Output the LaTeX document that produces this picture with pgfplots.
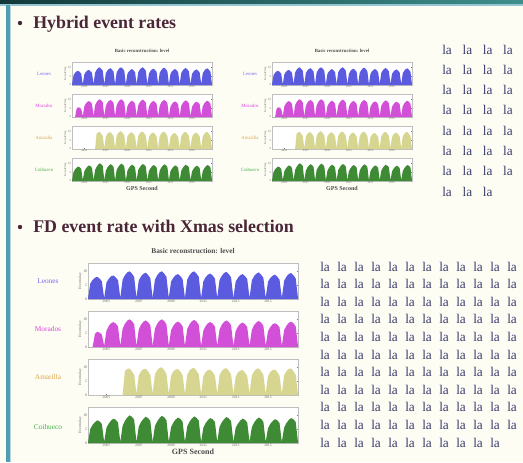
\documentclass[border=0pt]{standalone}
\usepackage{fontspec}
\setmainfont{Liberation Serif}
\usepackage{pgfplots}
\pgfplotsset{compat=1.18}
\usepackage{pgfplotstable}

\definecolor{bg}{HTML}{FDFDF4}
\definecolor{framec}{HTML}{4F9FB2}
\definecolor{bardark}{HTML}{12393A}
\definecolor{barlight}{HTML}{3E8F8C}
\definecolor{headtxt}{HTML}{4A2638}
\definecolor{latxt}{HTML}{3C3C70}
\definecolor{cL}{HTML}{5B5BE0}
\definecolor{cM}{HTML}{D24FD8}
\definecolor{cA}{HTML}{D6D690}
\definecolor{cC}{HTML}{3F8A35}
\definecolor{lL}{HTML}{7B68F0}
\definecolor{lM}{HTML}{E040E0}
\definecolor{lA}{HTML}{E0A448}
\definecolor{lC}{HTML}{45B045}

\pgfplotstableread{
x L M A C
0 0.03 0 0 0.03
1 0.56 0 0 0.51
2 0.69 0 0 0.66
3 0.77 0.47 0 0.75
4 0.80 0.55 0 0.82
5 0.74 0.52 0 0.78
6 0.64 0.45 0 0.69
7 0.03 0.04 0 0.04
8 0.60 0.59 0 0.55
9 0.73 0.76 0 0.70
10 0.82 0.86 0 0.81
11 0.85 0.90 0 0.88
12 0.78 0.85 0 0.84
13 0.68 0.74 0 0.74
14 0.04 0.04 0 0.04
15 0.70 0.66 0 0.62
16 0.86 0.84 0.86 0.80
17 0.96 0.95 0.94 0.92
18 1.00 1.00 0.96 1.00
19 0.92 0.94 0.86 0.95
20 0.80 0.82 0.73 0.84
21 0.04 0.04 0.04 0.04
22 0.67 0.63 0.70 0.59
23 0.82 0.81 0.86 0.76
24 0.91 0.91 0.93 0.87
25 0.95 0.96 0.95 0.95
26 0.87 0.90 0.86 0.90
27 0.76 0.79 0.72 0.80
28 0.04 0.04 0.04 0.04
29 0.70 0.66 0.74 0.61
30 0.86 0.84 0.90 0.78
31 0.96 0.95 0.98 0.90
32 1.00 1.00 1.00 0.98
33 0.92 0.94 0.90 0.93
34 0.80 0.82 0.76 0.82
35 0.04 0.04 0.04 0.04
36 0.63 0.61 0.70 0.57
37 0.77 0.77 0.85 0.74
38 0.86 0.87 0.92 0.85
39 0.90 0.92 0.94 0.92
40 0.83 0.86 0.85 0.87
41 0.72 0.75 0.71 0.77
42 0.04 0.04 0.04 0.04
43 0.70 0.65 0.73 0.60
44 0.86 0.82 0.88 0.77
45 0.96 0.93 0.96 0.88
46 1.00 0.98 0.98 0.96
47 0.92 0.92 0.88 0.91
48 0.80 0.80 0.74 0.81
49 0.04 0.04 0.04 0.04
50 0.64 0.59 0.68 0.56
51 0.79 0.76 0.83 0.72
52 0.88 0.86 0.90 0.83
53 0.92 0.90 0.92 0.90
54 0.85 0.85 0.83 0.86
55 0.74 0.74 0.70 0.76
56 0.04 0.04 0.04 0.04
57 0.69 0.63 0.72 0.58
58 0.84 0.81 0.87 0.75
59 0.94 0.91 0.95 0.86
60 0.98 0.96 0.97 0.94
61 0.90 0.90 0.87 0.89
62 0.78 0.79 0.74 0.79
63 0.04 0.04 0.04 0.04
64 0.63 0.58 0.67 0.55
65 0.77 0.74 0.81 0.70
66 0.86 0.84 0.88 0.81
67 0.90 0.88 0.90 0.88
68 0.83 0.83 0.81 0.84
69 0.72 0.72 0.68 0.74
70 0.04 0.04 0.04 0.04
71 0.67 0.62 0.71 0.57
72 0.83 0.79 0.86 0.74
73 0.92 0.89 0.94 0.85
74 0.96 0.94 0.96 0.92
75 0.88 0.88 0.86 0.87
76 0.77 0.77 0.73 0.77
77 0.04 0.04 0.04 0.04
78 0.62 0.57 0.68 0.53
79 0.76 0.72 0.83 0.69
80 0.84 0.82 0.90 0.79
81 0.88 0.86 0.92 0.86
82 0.81 0.81 0.83 0.82
83 0.70 0.71 0.70 0.72
84 0.04 0.04 0.04 0.04
85 0.66 0.61 0.71 0.56
86 0.81 0.77 0.86 0.72
87 0.90 0.87 0.94 0.83
88 0.94 0.92 0.96 0.90
89 0.86 0.86 0.86 0.86
90 0.75 0.75 0.73 0.76
91 0.04 0.04 0.04 0.04
}\rates

\pgfplotsset{
  panel/.style={
    scale only axis,
    xmin=0, xmax=91, ymin=0, ymax=1.3,
    axis background/.style={fill=white},
    axis line style={draw=black!25, line width=0.3pt},
    tick style={draw=black!50, line width=0.2pt},
    major tick length=1pt,
    tick label style={font=\fontsize{2.2}{2.5}\selectfont, text=black!60, inner sep=0.5pt},
    xtick={8,22,36,50,64,78},
    xticklabels={2005,2007,2009,2011,2013,2015},
    ytick={0,0.5,1.0},
    yticklabels={0,5,10},
    ylabel={Events/day},
    ylabel style={font=\fontsize{2.2}{2.5}\selectfont, text=black!60},
    ylabel shift=-3pt,
    title style={font=\fontsize{3.6}{4}\selectfont\bfseries, text=black!70, inner sep=1pt},
    xlabel style={font=\fontsize{4.5}{5}\selectfont\bfseries, text=black!70, inner sep=1pt},
  },
  bigpanel/.style={
    tick label style={font=\fontsize{2.8}{3}\selectfont},
    ylabel style={font=\fontsize{2.8}{3}\selectfont},
    title style={font=\fontsize{5.5}{6}\selectfont\bfseries},
    xlabel style={font=\fontsize{6}{6.5}\selectfont\bfseries},
  },
}

% #1 x left (px), #2 y bottom (px), #3 width (pt), #4 height (pt), #5 column, #6 colour, #7 extra options
\newcommand{\panel}[7]{%
  \begin{axis}[panel, at={({#1*0.75pt},{-#2*0.75pt})}, anchor=south west,
      width=#3pt, height=#4pt, #7]
    \addplot[draw=none, fill=#6] table[x=x, y=#5] {\rates} \closedcycle;
  \end{axis}}

\begin{document}
\begin{tikzpicture}
\begin{scope}[x=0.75pt, y=-0.75pt]
  \useasboundingbox (0,0) rectangle (523,462);
  \fill[bg] (0,0) rectangle (523,462);
  % top bar
  \shade[left color=bardark, right color=barlight] (0,0) rectangle (523,4);
  \fill[framec!60] (0,4) rectangle (523,5.5);
  % left frame line
  \fill[framec] (6,5) rectangle (9.5,462);
  \fill[framec!40] (9.5,5) rectangle (10.5,462);
  % headings
  \fill[headtxt] (20,23) circle (2.2);
  \node[anchor=base west, inner sep=0, font=\fontsize{13.4}{14}\selectfont\bfseries, text=headtxt] at (33,28) {Hybrid event rates};
  \fill[headtxt] (20,227) circle (2.2);
  \node[anchor=base west, inner sep=0, font=\fontsize{13.4}{14}\selectfont\bfseries, text=headtxt] at (33,232) {FD event rate with Xmas selection};
  % la grid (top right)
  \foreach \r in {0,...,6} {
    \foreach \c in {0,...,3} {
      \node[anchor=base west, inner sep=0, font=\fontsize{10}{11}\selectfont, text=latxt] at ({442+20.3*\c},{54+20.3*\r}) {la};
    }
  }
  \foreach \c in {0,...,2} {
    \node[anchor=base west, inner sep=0, font=\fontsize{10}{11}\selectfont, text=latxt] at ({442+20.3*\c},{54+20.3*7}) {la};
  }
  % la grid (bottom right)
  \foreach \r in {0,...,9} {
    \foreach \c in {0,...,11} {
      \node[anchor=base west, inner sep=0, font=\fontsize{10}{11}\selectfont, text=latxt] at ({320+17.0*\c},{271+17.6*\r}) {la};
    }
  }
  \foreach \c in {0,...,10} {
    \node[anchor=base west, inner sep=0, font=\fontsize{10}{11}\selectfont, text=latxt] at ({320+17.0*\c},{271+17.6*10}) {la};
  }
  % station labels
  \foreach \xx in {44,250} {
    \node[font=\fontsize{3.6}{4}\selectfont, text=lL] at (\xx,73.5) {Leones};
    \node[font=\fontsize{3.6}{4}\selectfont, text=lM] at (\xx,105.5) {Morados};
    \node[font=\fontsize{3.6}{4}\selectfont, text=lA] at (\xx,137.5) {Amarilla};
    \node[font=\fontsize{3.6}{4}\selectfont, text=lC] at (\xx,169.5) {Coihueco};
  }
  \node[font=\fontsize{5.5}{6}\selectfont, text=lL] at (48,281) {Leones};
  \node[font=\fontsize{5.5}{6}\selectfont, text=lM] at (48,329) {Morados};
  \node[font=\fontsize{5.5}{6}\selectfont, text=lA] at (48,377) {Amarilla};
  \node[font=\fontsize{5.5}{6}\selectfont, text=lC] at (48,427) {Coihueco};
\end{scope}

% top-left figure
\panel{72}{85}{105}{17.25}{L}{cL}{title={Basic reconstruction: level}}
\panel{72}{117}{105}{17.25}{M}{cM}{}
\panel{72}{149}{105}{17.25}{A}{cA}{}
\panel{72}{181}{105}{17.25}{C}{cC}{xlabel={GPS Second}}
% top-right figure
\panel{272}{85}{105}{17.25}{L}{cL}{title={Basic reconstruction: level}}
\panel{272}{117}{105}{17.25}{M}{cM}{}
\panel{272}{149}{105}{17.25}{A}{cA}{}
\panel{272}{181}{105}{17.25}{C}{cC}{xlabel={GPS Second}}
% bottom figure
\panel{88}{299}{157.5}{27}{L}{cL}{bigpanel, title={Basic reconstruction: level}}
\panel{88}{347}{157.5}{27}{M}{cM}{bigpanel}
\panel{88}{395}{157.5}{27}{A}{cA}{bigpanel}
\panel{88}{443}{157.5}{27}{C}{cC}{bigpanel, xlabel={GPS Second}}
\end{tikzpicture}
\end{document}
